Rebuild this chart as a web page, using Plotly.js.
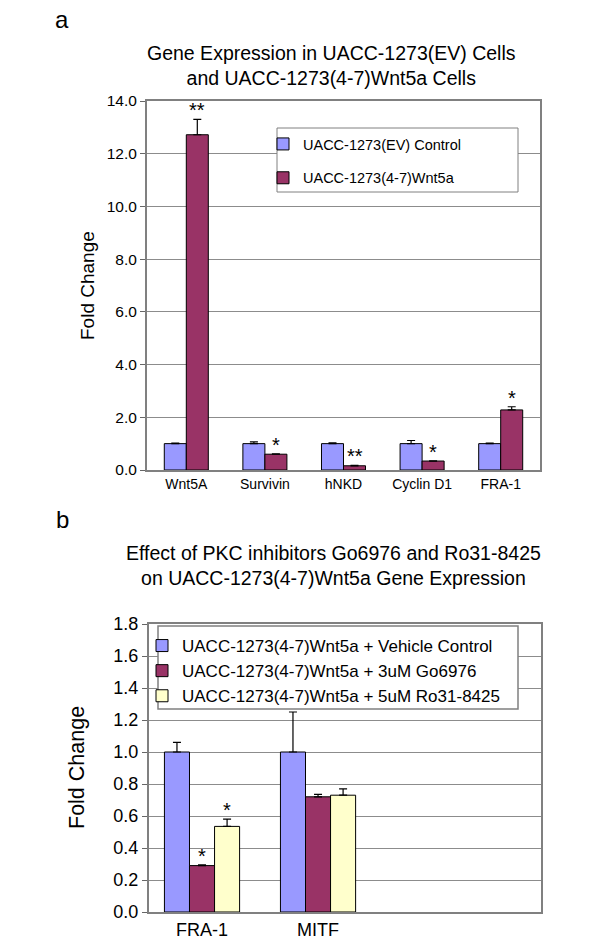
<!DOCTYPE html>
<html><head><meta charset="utf-8">
<script src="https://cdn.plot.ly/plotly-3.0.1.min.js"></script>
<style>body{margin:0;background:#fff}#chart{width:602px;height:943px}</style>
</head><body><div id="chart"></div>
<script>
// Panel a data
const genesA = ['Wnt5A','Survivin','hNKD','Cyclin D1','FRA-1'];
const controlA = [1.0,1.0,1.0,1.0,1.0];
const controlErrA = [0.02,0.07,0.03,0.12,0.02];
const wnt5aA = [12.72,0.60,0.16,0.34,2.28];
const wnt5aErrA = [0.58,0.01,0.02,0.01,0.12];
const starsA = ['**','*','**','*','*'];
const namesA = ['UACC-1273(EV) Control','UACC-1273(4-7)Wnt5a'];

// Panel b data
const genesB = ['FRA-1','MITF'];
const vehicleB = [1.0,1.0];
const vehicleErrB = [0.06,0.25];
const goB = [0.29,0.72];
const goErrB = [0.005,0.015];
const roB = [0.535,0.73];
const roErrB = [0.045,0.04];
const starsGoB = ['*',''];
const starsRoB = ['*',''];
const namesB = ['UACC-1273(4-7)Wnt5a + Vehicle Control','UACC-1273(4-7)Wnt5a + 3uM Go6976','UACC-1273(4-7)Wnt5a + 5uM Ro31-8425'];

const FONT = 'Arial, "Liberation Sans", sans-serif';
const C1 = '#9999FF', C2 = '#993366', C3 = '#FFFFCC';
const WA = 0.28, WB = 0.216;

function bar(x, y, err, name, color, off, w, xa, ya, lg, grp){
  return {type:'bar', x:x, y:y, name:name, width:w, offset:off,
    xaxis:xa, yaxis:ya, legend:lg, legendgroup:grp,
    marker:{color:color, line:{color:'#000', width:1}},
    error_y:{type:'data', symmetric:false, array:err, arrayminus:err.map(()=>0),
      color:'#000', thickness:1.2, width:4}};
}

const data = [
  bar(genesA, controlA, controlErrA, namesA[0], C1, -WA, WA, 'x','y','legend','a1'),
  bar(genesA, wnt5aA, wnt5aErrA, namesA[1], C2, 0, WA, 'x','y','legend','a2'),
  bar(genesB, vehicleB, vehicleErrB, namesB[0], C1, -1.5*WB, WB, 'x2','y2','legend2',undefined),
  bar(genesB, goB, goErrB, namesB[1], C2, -0.5*WB, WB, 'x2','y2','legend2',undefined),
  bar(genesB, roB, roErrB, namesB[2], C3, 0.5*WB, WB, 'x2','y2','legend2',undefined)
];

const annotations = [];
function stars(labels, vals, errs, off, w, xr, yr){
  labels.forEach((s,i)=>{
    if(!s) return;
    annotations.push({xref:xr, yref:yr, x:i+off+w/2, y:vals[i]+errs[i], text:s,
      showarrow:false, xanchor:'center', yanchor:'bottom', yshift:-4, font:{family:FONT,size:20,color:'#000'}});
  });
}
stars(starsA, wnt5aA, wnt5aErrA, 0, WA, 'x','y');
stars(starsGoB, goB, goErrB, -0.5*WB, WB, 'x2','y2');
stars(starsRoB, roB, roErrB, 0.5*WB, WB, 'x2','y2');

const H = 943, W = 602;
function ann(x, y, text, size, extra){
  return Object.assign({xref:'paper',yref:'paper',x:x/W,y:1-y/H,text:text,showarrow:false,
    xanchor:'center',yanchor:'middle',font:{family:FONT,size:size,color:'#000'}}, extra||{});
}
annotations.push(
  ann(62, 19, 'a', 24),
  ann(62, 519, 'b', 24),
  ann(331, 40, 'Gene Expression in UACC-1273(EV) Cells<br>and UACC-1273(4-7)Wnt5a Cells', 19.5, {yanchor:'top'}),
  ann(333, 540, 'Effect of PKC inhibitors Go6976 and Ro31-8425<br>on UACC-1273(4-7)Wnt5a Gene Expression', 19.5, {yanchor:'top'}),
  ann(88, 286, 'Fold Change', 19, {textangle:-90}),
  ann(77, 768, 'Fold Change', 21.5, {textangle:-90})
);

const axLine = {showline:true, mirror:true, linecolor:'#808080', linewidth:2};
const layout = {
  width:W, height:H, margin:{l:0,r:0,t:0,b:0},
  paper_bgcolor:'#fff', plot_bgcolor:'#fff',
  font:{family:FONT, color:'#000'},
  barmode:'overlay',
  xaxis:Object.assign({domain:[147/W,540/W], anchor:'y', type:'category', range:[-0.5,4.5],
    ticks:'', tickfont:{size:14}}, axLine),
  yaxis:Object.assign({domain:[1-470/H,1-101/H], anchor:'x', range:[0,14], dtick:2, tickformat:'.1f',
    showgrid:true, gridcolor:'#8c8c8c', gridwidth:1, zeroline:false,
    ticks:'outside', ticklen:5, tickcolor:'#666', tickfont:{size:15.5}}, axLine),
  xaxis2:Object.assign({domain:[149/W,541/W], anchor:'y2', type:'category', range:[-0.457,2.922],
    ticks:'', tickfont:{size:18}}, axLine),
  yaxis2:Object.assign({domain:[1-912/H,1-624/H], anchor:'x2', range:[0,1.8], dtick:0.2, tickformat:'.1f',
    showgrid:true, gridcolor:'#8c8c8c', gridwidth:1, zeroline:false,
    ticks:'outside', ticklen:5, tickcolor:'#666', tickfont:{size:18}}, axLine),
  legend:{x:263/W, y:1-128/H, xanchor:'left', yanchor:'top', bgcolor:'rgba(0,0,0,0)', borderwidth:0,
    traceorder:'grouped', tracegroupgap:12, font:{family:FONT,size:14.5,color:'#000'}},
  legend2:{x:142/W, y:1-628/H, xanchor:'left', yanchor:'top', bgcolor:'rgba(0,0,0,0)', borderwidth:0,
    traceorder:'normal', font:{family:FONT,size:17,color:'#000'}},
  shapes:[
    {type:'rect', xref:'paper', yref:'paper', x0:277/W, x1:518/W, y0:1-192/H, y1:1-128/H,
      line:{color:'#808080', width:1}, fillcolor:'#fff', layer:'above'},
    {type:'rect', xref:'paper', yref:'paper', x0:158/W, x1:518/W, y0:1-709/H, y1:1-626/H,
      line:{color:'#808080', width:1.5}, fillcolor:'#fff', layer:'above'}
  ],
  annotations:annotations,
  showlegend:true
};

Plotly.newPlot('chart', data, layout, {staticPlot:true});
</script></body></html>
